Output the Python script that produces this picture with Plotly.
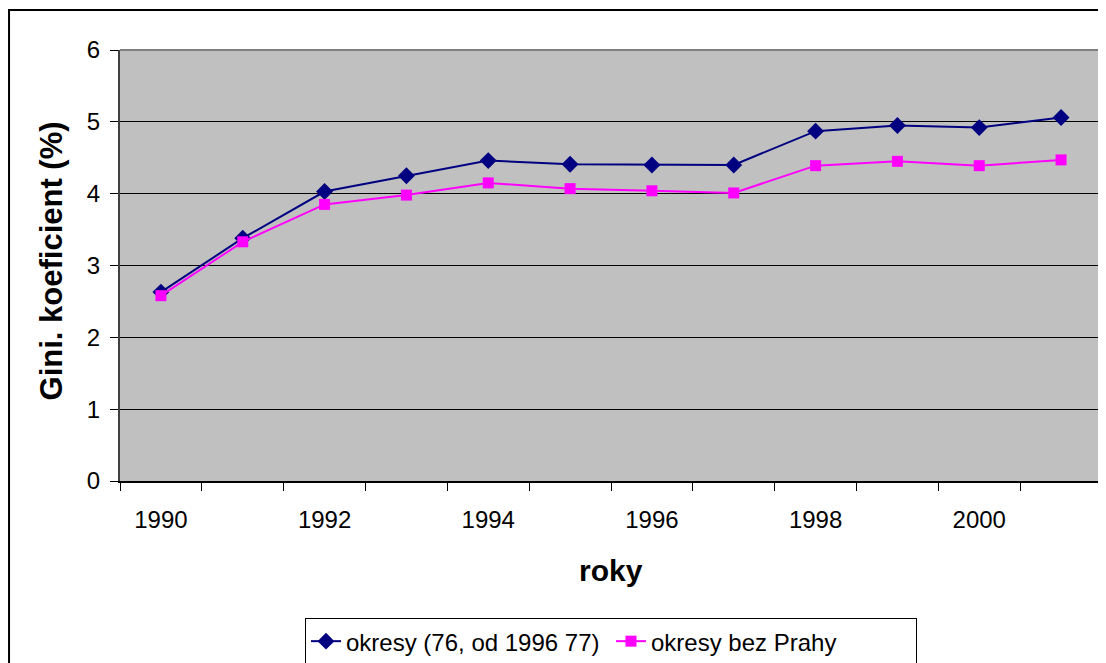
import plotly.graph_objects as go

# ── data ─────────────────────────────────────────────────────────────────────
years = [1990, 1991, 1992, 1993, 1994, 1995, 1996, 1997, 1998, 1999, 2000, 2001]
okresy = [2.63, 3.38, 4.03, 4.25, 4.46, 4.41, 4.40, 4.40, 4.87, 4.95, 4.92, 5.06]
bez_prahy = [2.58, 3.33, 3.85, 3.98, 4.15, 4.07, 4.04, 4.01, 4.39, 4.45, 4.39, 4.47]
year_ticks = [1990, 1992, 1994, 1996, 1998, 2000]

FONT = "Liberation Sans, Arial, sans-serif"

fig = go.Figure()
fig.add_trace(go.Scatter(
    x=years, y=okresy, name="okresy (76, od 1996 77)",
    mode="lines+markers",
    line=dict(color="#000080", width=2),
    marker=dict(symbol="diamond", size=13, color="#000080"),
))
fig.add_trace(go.Scatter(
    x=years, y=bez_prahy, name="okresy bez Prahy",
    mode="lines+markers",
    line=dict(color="#FF00FF", width=2),
    marker=dict(symbol="square", size=11, color="#FF00FF"),
))

# page body has an 8px margin, so the figure starts at (8, 8);
# plot area ~ x 120..1102, y 50..481.5 on the page.
# autoexpand off: the legend box runs off the bottom edge, like the original
fig.update_layout(
    width=1098, height=655,
    margin=dict(l=112, r=4, t=42, b=181.5, autoexpand=False),
    paper_bgcolor="white",
    plot_bgcolor="#C0C0C0",
    font=dict(family=FONT, size=24, color="black"),
    showlegend=True,
    legend=dict(
        orientation="h",
        x=0.5, xanchor="center",
        y=-0.318, yanchor="top",
        bgcolor="white",
        bordercolor="black", borderwidth=1,
        font=dict(size=24),
        entrywidth=260,
        tracegroupgap=0,
    ),
)

fig.update_xaxes(
    range=[1989.5, 2001.5],
    tickvals=year_ticks,
    ticks="outside", ticklen=8, tickcolor="rgba(0,0,0,0)",
    ticklabelstandoff=8,
    showgrid=False, zeroline=False,
    showline=True, linecolor="black", linewidth=2,
    minor=dict(tick0=1989.5, dtick=1, ticks="outside", ticklen=8,
               tickcolor="black", showgrid=False),
    tickfont=dict(size=24),
)
fig.update_yaxes(
    range=[0, 6], dtick=1,
    ticks="outside", ticklen=8, tickcolor="black",
    ticklabelstandoff=5,
    showgrid=True, gridcolor="black", gridwidth=1,
    zeroline=False,
    showline=True, linecolor="#404040", linewidth=2,
    tickfont=dict(size=24),
)

# axis titles
fig.add_annotation(text="<b>roky</b>", xref="paper", yref="paper",
                   x=0.5, y=-0.207, xanchor="center", yanchor="middle",
                   showarrow=False, font=dict(size=30))
fig.add_annotation(text="<b>Gini. koeficient (%)</b>", xref="paper", yref="paper",
                   x=-0.070, y=0.51, xanchor="center", yanchor="middle",
                   textangle=-90, showarrow=False, font=dict(size=31))

# gray border on top / right of the plot area, outer chart frame
fig.add_shape(type="line", xref="paper", yref="paper", x0=0, x1=1, y0=1, y1=1,
              line=dict(color="#808080", width=2))
fig.add_shape(type="line", xref="paper", yref="paper", x0=1, x1=1, y0=0, y1=1,
              line=dict(color="#808080", width=2))
fig.add_shape(type="rect", xref="paper", yref="paper",
              x0=-0.1130, x1=1.02, y0=-0.5, y1=1.0927,
              line=dict(color="black", width=2), fillcolor="rgba(0,0,0,0)")

fig.write_html("out.html")
